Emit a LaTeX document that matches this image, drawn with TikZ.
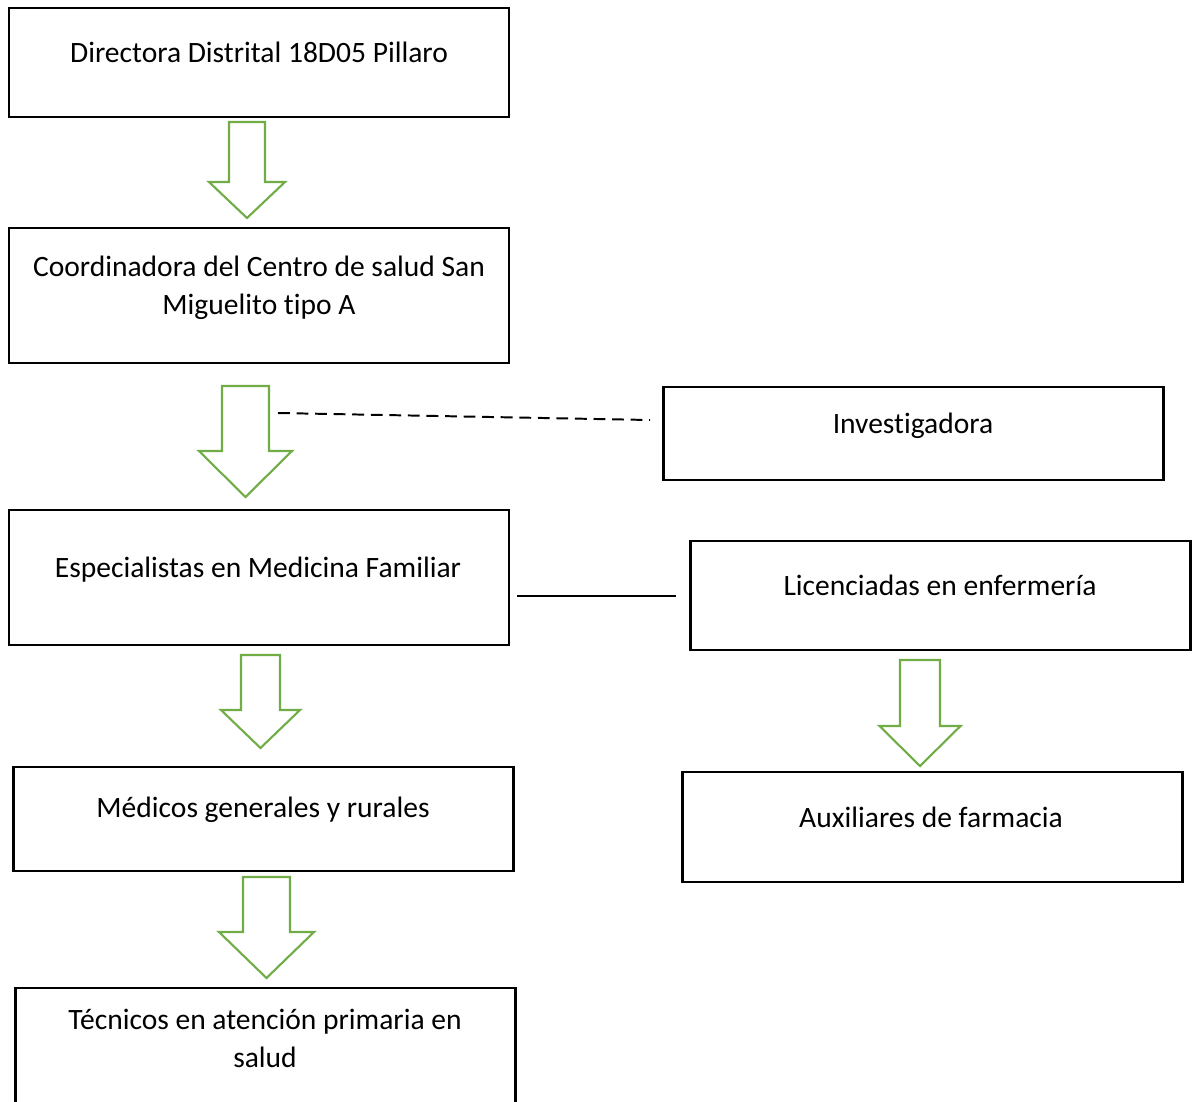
\documentclass[tikz,border=0pt]{standalone}
\usepackage{fontspec}
\setmainfont{Carlito}[Ligatures=NoCommon]
\usepackage{xcolor}
\definecolor{offgreen}{HTML}{70AD47}
\usetikzlibrary{positioning, calc}

\tikzset{
  box/.style={draw=black, line width=0.9pt, minimum width=6.25cm, inner sep=0pt},
  txt/.style={font=\fontsize{10.5}{13.5}\selectfont, align=center, inner sep=0pt},
  blockarrow/.style={draw=offgreen, line width=0.75pt, fill=white, line join=miter}
}
% hollow green arrow: centre x, top, head base, tip, shaft half, head half
\newcommand{\greenarrow}[6]{%
  \draw[blockarrow] ({#1-#5},#2) -- ({#1+#5},#2) -- ({#1+#5},#3) -- ({#1+#6},#3)
    -- (#1,#4) -- ({#1-#6},#3) -- ({#1-#5},#3) -- cycle;}

\begin{document}
\begin{tikzpicture}[x=0.0125cm, y=-0.0125cm]
\useasboundingbox (0,0) rectangle (1194,1101);

% Boxes of the left column
\node[box, minimum height=1.3625cm] (dir) at (259,62.5) {};
\node[box, minimum height=1.6875cm] (coord) at (259,295.5) {};
\node[box, minimum height=1.6875cm] (esp) at (259,577.5) {};
\node[box, minimum height=1.3cm] (med) at (263.5,819) {};
\node[box, minimum height=1.775cm] (tec) at (265.5,1059) {};

% Boxes of the right column
\node[box, minimum height=1.1625cm] (inv) at (913.5,433.5) {};
\node[box, minimum height=1.3625cm] (lic) at (940.5,595.5) {};
\node[box, minimum height=1.375cm] (aux) at (932.5,827) {};

% Texts in the boxes
\node[txt] (dirtxt) at (259,52) {Directora Distrital 18D05 Pillaro};
\node[txt] (coordtxt) at (259,287.5) {Coordinadora del Centro de salud San\\Miguelito tipo A};
\node[txt] (esptxt) at (258,569.5) {Especialistas en Medicina Familiar};
\node[txt] (medtxt) at (263,810) {Médicos generales y rurales};
\node[txt] (tectxt) at (265,1038.5) {Técnicos en atención primaria en\\salud};
\node[txt] (invtxt) at (913,425.5) {Investigadora};
\node[txt] (lictxt) at (940,585.5) {Licenciadas en enfermería};
\node[txt] (auxtxt) at (931,817) {Auxiliares de farmacia};

% Green block arrows
\greenarrow{247}{122}{182}{218}{18}{38}
\greenarrow{245.5}{386}{451}{497}{23.5}{46.5}
\greenarrow{260.5}{655}{710}{748}{19.5}{39.5}
\greenarrow{920}{660}{726}{766}{20}{40.5}
\greenarrow{266.5}{877}{932}{978}{23.5}{47.5}

% Side links
\coordinate (dashA) at (278,413);
\coordinate (dashB) at (650,420);
\draw[line width=0.7pt, dash pattern=on 4.2pt off 2.4pt] (dashA) -- (dashB);
\coordinate (lineA) at ($(esp.east)+(7,18.5)$);
\coordinate (lineB) at ($(lic.west)+(-13,0.5)$);
\draw[line width=0.6pt] (lineA) -- (lineB);
\end{tikzpicture}
\end{document}
